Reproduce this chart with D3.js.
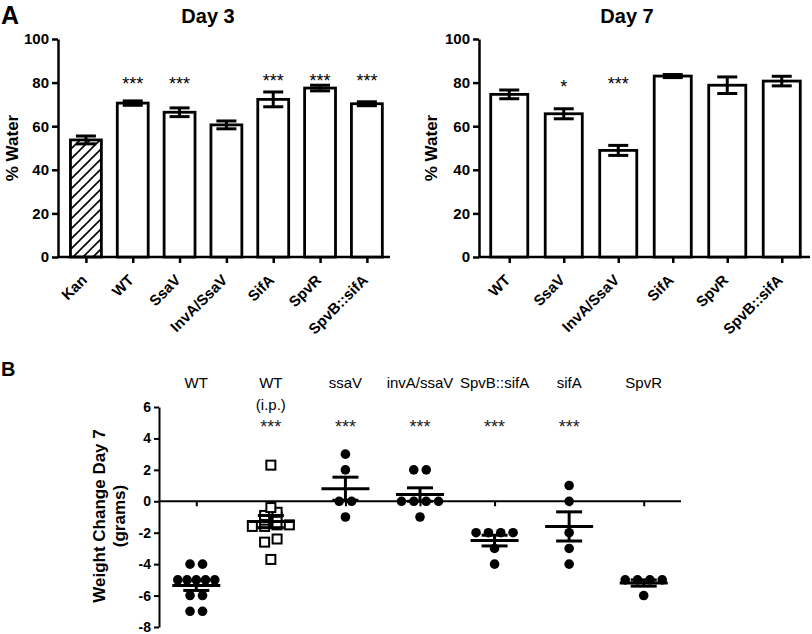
<!DOCTYPE html>
<html><head><meta charset="utf-8">
<script src="https://cdn.jsdelivr.net/npm/d3@7"></script>
<style>body{margin:0;background:#fff}svg{display:block}text{font-family:"Liberation Sans",Arial,sans-serif}</style>
</head><body><svg id="c" width="812" height="634"></svg>
<script>
// ---------- Panel A : Day 3 ----------
const day3Categories = ["Kan","WT","SsaV","InvA/SsaV","SifA","SpvR","SpvB::sifA"];
const day3Means = [53.7,70.6,66.4,60.6,72.3,77.5,70.3];
const day3Sem   = [1.8,1.0,2.0,1.8,3.4,1.3,0.9];
const day3Sig   = ["","***","***","","***","***","***"];
const day3SigAt = [null,81,81,null,82.5,82.5,82.5];
// ---------- Panel A : Day 7 ----------
const day7Categories = ["WT","SsaV","InvA/SsaV","SifA","SpvR","SpvB::sifA"];
const day7Means = [74.6,65.7,48.9,83.0,78.8,80.7];
const day7Sem   = [2.0,2.3,2.3,0.7,3.8,2.2];
const day7Sig   = ["","*","***","","",""];
const day7SigAt = [null,80,81,null,null,null];
const waterTicks = [0,20,40,60,80,100];
// ---------- Panel B ----------
const weightGroups = ["WT","WT (i.p.)","ssaV","invA/ssaV","SpvB::sifA","sifA","SpvR"];
const weightGroupLines = [["WT"],["WT","(i.p.)"],["ssaV"],["invA/ssaV"],["SpvB::sifA"],["sifA"],["SpvR"]];
const weightWT       = [-4,-4,-5,-5,-5,-5,-5,-6,-6,-7,-7];
const weightWTip     = [2.3,-0.4,-0.7,-0.9,-1.0,-1.2,-1.5,-1.5,-1.6,-1.6,-2.4,-2.6,-3.7];
const weightSsaV     = [3,2,0,0,-1];
const weightInvASsaV = [2,2,0,0,0,0,-1];
const weightSpvBSifA = [-2,-2,-2,-2,-3,-4];
const weightSifA     = [1,0,-2,-3,-4];
const weightSpvR     = [-5,-5,-5,-5,-6];
const weightSig      = ["","***","***","***","***","***",""];
const weightTicks    = [6,4,2,0,-2,-4,-6,-8];

const svg = d3.select("#c");
const defs = svg.append("defs");
const pat = defs.append("pattern").attr("id","hatch").attr("patternUnits","userSpaceOnUse")
  .attr("width",10).attr("height",10);
pat.append("path").attr("d","M-1,1 l2,-2 M0,10 l10,-10 M9,11 l2,-2")
  .attr("stroke","#000").attr("stroke-width",1.6);

function barPanel(o){
  const g = svg.append("g");
  const x = d3.scalePoint().domain(o.cats).range(o.xr).padding(0.5);
  const y = d3.scaleLinear().domain([0,100]).range([257,39]);
  const bw = x.step()*o.bwf;
  const ya = g.append("g").attr("transform",`translate(${o.ax},0)`)
    .call(d3.axisLeft(y).tickValues(waterTicks).tickSize(6).tickSizeOuter(0).tickPadding(3));
  ya.select(".domain").attr("stroke-width",2.5);
  ya.selectAll(".tick line").attr("stroke-width",2.5);
  ya.selectAll(".tick text").attr("font-size",15).attr("font-weight","bold").attr("fill","#000")
    .attr("font-family",'"Liberation Sans",Arial,sans-serif');
  const xa = g.append("g").attr("transform",`translate(0,${y(0)})`)
    .call(d3.axisBottom(x).tickSize(6).tickSizeOuter(0).tickFormat(""));
  xa.select(".domain").remove();
  xa.selectAll(".tick line").attr("stroke-width",2.5);
  g.append("line").attr("x1",o.ax-1).attr("x2",o.xend).attr("y1",y(0)).attr("y2",y(0))
    .attr("stroke","#000").attr("stroke-width",2.5);
  g.selectAll("rect.bar").data(o.cats).join("rect").attr("class","bar")
    .attr("x",d=>x(d)-bw/2).attr("width",bw)
    .attr("y",(d,i)=>y(o.means[i])).attr("height",(d,i)=>y(0)-y(o.means[i]))
    .attr("fill",(d,i)=>o.hatch&&o.hatch[i]?"url(#hatch)":"#fff")
    .attr("stroke","#000").attr("stroke-width",2.8);
  o.cats.forEach((c,i)=>{
    const cx=x(c), hi=y(o.means[i]+o.sem[i]), lo=y(o.means[i]-o.sem[i]);
    g.append("line").attr("x1",cx).attr("x2",cx).attr("y1",hi).attr("y2",lo).attr("stroke","#000").attr("stroke-width",3);
    [hi,lo].forEach(v=>g.append("line").attr("x1",cx-10).attr("x2",cx+10).attr("y1",v).attr("y2",v)
      .attr("stroke","#000").attr("stroke-width",3));
    if(o.sig[i]) g.append("text").attr("x",cx).attr("y",y(o.sigAt[i])+10).attr("text-anchor","middle")
      .attr("font-size",18).text(o.sig[i]);
    g.append("text").attr("transform",`translate(${cx+2},${y(0)+24}) rotate(-45)`)
      .attr("text-anchor","end").attr("font-size",15).attr("font-weight","bold").text(c);
  });
  g.append("text").attr("x",o.titleX).attr("y",23).attr("text-anchor","middle")
    .attr("font-size",20).attr("font-weight","bold").text(o.title);
  g.append("text").attr("transform",`translate(${o.ylabX},${(y(0)+y(100))/2}) rotate(-90)`)
    .attr("text-anchor","middle").attr("font-size",17).attr("font-weight","bold").text("% Water");
}

barPanel({cats:day3Categories,means:day3Means,sem:day3Sem,sig:day3Sig,sigAt:day3SigAt,
  xr:[62.5,390.3],ax:58,xend:390,bwf:0.66,title:"Day 3",titleX:208,ylabX:18,
  hatch:[true,false,false,false,false,false,false]});
barPanel({cats:day7Categories,means:day7Means,sem:day7Sem,sig:day7Sig,sigAt:day7SigAt,
  xr:[482,809],ax:479,xend:810,bwf:0.68,title:"Day 7",titleX:627,ylabX:437});

svg.append("text").attr("x",1).attr("y",24).attr("font-size",25).attr("font-weight","bold").text("A");
svg.append("text").attr("x",1).attr("y",376).attr("font-size",20).attr("font-weight","bold").text("B");

// ---------- Panel B drawing ----------
const weightData = [weightWT,weightWTip,weightSsaV,weightInvASsaV,weightSpvBSifA,weightSifA,weightSpvR];
const xb = d3.scalePoint().domain(weightGroups).range([159,681]).padding(0.5);
const yb = d3.scaleLinear().domain([-8,6]).range([627,407]);
const gb = svg.append("g");
const yab = gb.append("g").attr("transform","translate(159,0)")
  .call(d3.axisLeft(yb).tickValues(weightTicks).tickSize(5).tickSizeOuter(0).tickPadding(3).tickFormat(d=>String(d)));
yab.select(".domain").attr("stroke-width",2);
yab.selectAll(".tick line").attr("stroke-width",2);
yab.selectAll(".tick text").attr("font-size",14).attr("font-weight","bold").attr("fill","#000")
  .attr("font-family",'"Liberation Sans",Arial,sans-serif');
gb.append("line").attr("x1",159).attr("x2",681).attr("y1",yb(0)).attr("y2",yb(0)).attr("stroke","#000").attr("stroke-width",2);
const xab = gb.append("g").attr("transform",`translate(0,${yb(0)})`).call(d3.axisBottom(xb).tickSize(5).tickSizeOuter(0).tickFormat(""));
xab.select(".domain").remove();
xab.selectAll(".tick line").attr("stroke-width",2);

gb.append("text").attr("transform","translate(105,516) rotate(-90)").attr("text-anchor","middle")
  .attr("font-size",17).attr("font-weight","bold").text("Weight Change Day 7");
gb.append("text").attr("transform","translate(125,516) rotate(-90)").attr("text-anchor","middle")
  .attr("font-size",17).attr("font-weight","bold").text("(grams)");

weightGroups.forEach((gname,gi)=>{
  const cx = xb(gname);
  const vals = weightData[gi].slice().sort((a,b)=>a-b);
  const rows=[]; let cur=null;
  vals.forEach(v=>{ if(cur && v-cur[0]<=0.25) cur.push(v); else {cur=[v];rows.push(cur);} });
  const pts=[];
  rows.forEach(r=>{
    const n=r.length, sp = n>1?Math.min(12.5,37/(n-1)):0;
    r.forEach((v,k)=>pts.push({x:cx+(k-(n-1)/2)*sp, y:yb(v)}));
  });
  const sq = gi===1;
  pts.forEach(p=>{
    if(sq) gb.append("rect").attr("x",p.x-4.5).attr("y",p.y-4.5).attr("width",9).attr("height",9)
      .attr("fill","#fff").attr("stroke","#000").attr("stroke-width",2);
    else gb.append("circle").attr("cx",p.x).attr("cy",p.y).attr("r",4.8).attr("fill","#000");
  });
  const m = d3.mean(vals), s = d3.deviation(vals)/Math.sqrt(vals.length);
  gb.append("line").attr("x1",cx-24).attr("x2",cx+24).attr("y1",yb(m)).attr("y2",yb(m)).attr("stroke","#000").attr("stroke-width",3);
  gb.append("line").attr("x1",cx).attr("x2",cx).attr("y1",yb(m+s)).attr("y2",yb(m-s)).attr("stroke","#000").attr("stroke-width",3);
  [m+s,m-s].forEach(v=>gb.append("line").attr("x1",cx-13).attr("x2",cx+13).attr("y1",yb(v)).attr("y2",yb(v)).attr("stroke","#000").attr("stroke-width",3));
  weightGroupLines[gi].forEach((t,li)=>gb.append("text").attr("x",cx).attr("y",388+li*22)
    .attr("text-anchor","middle").attr("font-size",15).text(t));
  if(weightSig[gi]) gb.append("text").attr("x",cx).attr("y",433).attr("text-anchor","middle")
    .attr("font-size",18).attr("fill","#222").text(weightSig[gi]);
});
</script></body></html>
